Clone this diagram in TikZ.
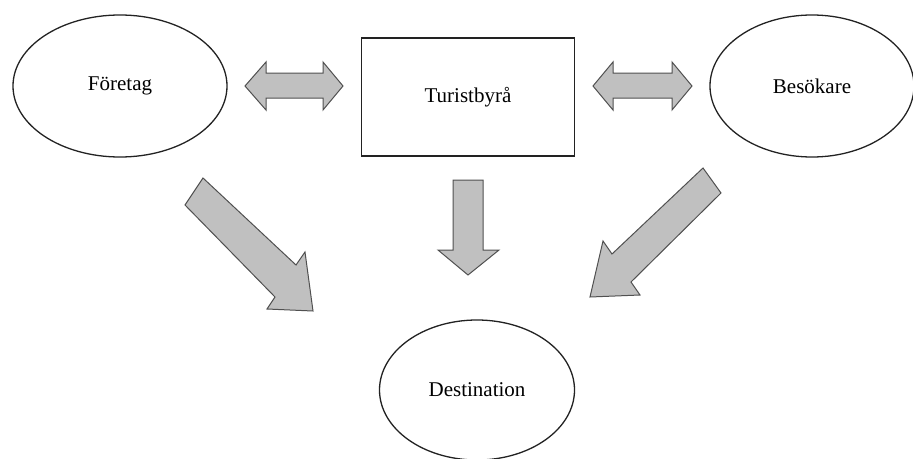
\documentclass[tikz,border=0pt]{standalone}
\usepackage{fontspec}
\setmainfont{Liberation Serif}
\usetikzlibrary{shapes.geometric}
\definecolor{arrowfill}{HTML}{C0C0C0}
\definecolor{arrowline}{HTML}{505050}
\definecolor{outline}{HTML}{222222}
\begin{document}
\begin{tikzpicture}[x=1pt,y=-1pt,
  actor/.style={ellipse, draw=outline, line width=1.3pt, inner sep=0pt, outer sep=0pt,
    font=\fontsize{21}{25}\selectfont},
  office/.style={rectangle, draw=outline, line width=1.3pt, inner sep=0pt, outer sep=0pt,
    font=\fontsize{21}{25}\selectfont},
  blockarrow/.style={fill=arrowfill, draw=arrowline, line width=1pt, line join=miter}]
  \useasboundingbox (0,0) rectangle (913,458);

  % the four parties
  \node[actor, minimum width=214pt, minimum height=142pt] (foretag) at (120,86) {Företag};
  \node[office, minimum width=213pt, minimum height=118pt] (byra) at (468,97) {Turistbyrå};
  \node[actor, minimum width=204pt, minimum height=142pt] (besok) at (812,86) {Besökare};
  \node[actor, minimum width=195pt, minimum height=140pt] (dest) at (477,390) {Destination};

  % two-way exchange with the tourist office
  \draw[blockarrow] (245,86) -- (266,62) -- (266,73) -- (323,73) -- (323,62) -- (343,86)
    -- (323,110) -- (323,98) -- (266,98) -- (266,110) -- cycle;
  \draw[blockarrow] (593,86) -- (613,62) -- (613,73) -- (672,73) -- (672,62) -- (692,86)
    -- (672,110) -- (672,98) -- (613,98) -- (613,110) -- cycle;

  % flows towards the destination
  \draw[blockarrow] (453,180) -- (483,180) -- (483,250) -- (499,250) -- (468,275)
    -- (438,250) -- (453,250) -- cycle;
  \draw[blockarrow] (203,178) -- (296,265) -- (305,252) -- (313,311) -- (267,309)
    -- (275,297) -- (185,205) -- cycle;
  \draw[blockarrow] (703,168) -- (612,254) -- (603,241) -- (590,297) -- (640,295)
    -- (631,282) -- (721,193) -- cycle;
\end{tikzpicture}
\end{document}
